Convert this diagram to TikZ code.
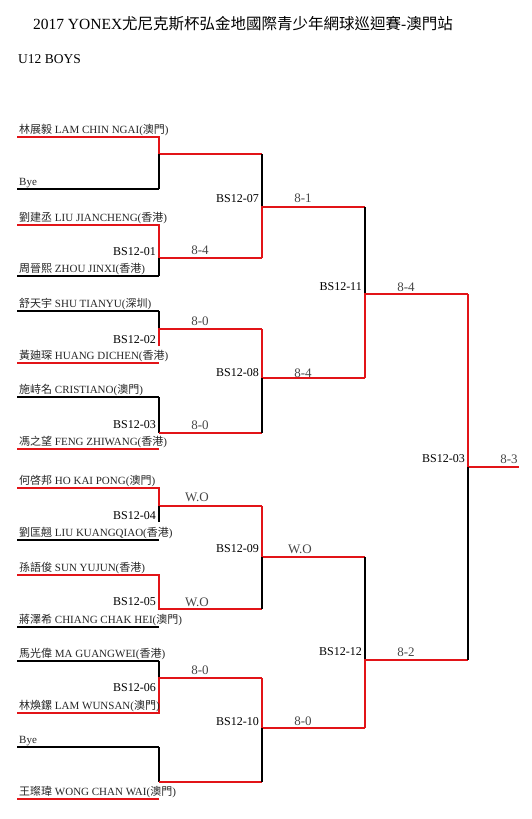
\documentclass[tikz,border=0pt]{standalone}
\usepackage{fontspec}
\setmainfont{Liberation Serif}
\newfontfamily\cjk{Noto Sans CJK TC}
\definecolor{brk}{RGB}{226,20,24}
\definecolor{sc}{RGB}{70,70,70}
\begin{document}
\begin{tikzpicture}[x=1pt,y=-1pt,
  win/.style={draw=brk,line width=2pt},
  lose/.style={draw=black,line width=2.3pt},
  pname/.style={anchor=base west,inner sep=0pt,font=\fontsize{11}{13}\selectfont,text=black!85},
  mlabel/.style={anchor=east,inner sep=0pt,font=\fontsize{12}{14}\selectfont},
  score/.style={inner sep=0pt,font=\fontsize{13}{15}\selectfont,text=sc}]
\useasboundingbox (0,0) rectangle (531,819);

% titles
\node[inner sep=0pt,font=\fontsize{15.5}{18}\selectfont] (title) at (243,24) {2017 YONEX{\cjk 尤尼克斯杯弘金地國際青少年網球巡迴賽}-{\cjk 澳門站}};
\node[anchor=west,inner sep=0pt,font=\fontsize{13.5}{16}\selectfont] (sub) at (18,59) {U12 BOYS};

% player line ends
\foreach \i/\y in {1/137,2/189,3/225,4/276,5/311,6/363,7/397,8/449,9/488,10/540,11/575,12/627,13/661,14/713,15/747,16/799}{
  \coordinate (L\i) at (17,\y);
  \coordinate (R\i) at (159,\y);
}
% round-1 outputs
\coordinate (A1) at (159,154);  \coordinate (A1r) at (262,154);
\coordinate (A2) at (159,258);  \coordinate (A2r) at (262,258);
\coordinate (A3) at (159,329);  \coordinate (A3r) at (262,329);
\coordinate (A4) at (159,433);  \coordinate (A4r) at (262,433);
\coordinate (A5) at (159,506);  \coordinate (A5r) at (262,506);
\coordinate (A6) at (159,609);  \coordinate (A6r) at (262,609);
\coordinate (A7) at (159,678);  \coordinate (A7r) at (262,678);
\coordinate (A8) at (159,782);  \coordinate (A8r) at (262,782);
\coordinate (E2) at (159,346);
\coordinate (E4) at (159,522);
% round-2 outputs
\coordinate (B1) at (262,207); \coordinate (B1r) at (365,207);
\coordinate (B2) at (262,378); \coordinate (B2r) at (365,378);
\coordinate (B3) at (262,557); \coordinate (B3r) at (365,557);
\coordinate (B4) at (262,728); \coordinate (B4r) at (365,728);
% round-3 outputs
\coordinate (C1) at (365,294); \coordinate (C1r) at (468,294);
\coordinate (C2) at (365,660); \coordinate (C2r) at (468,660);
% final
\coordinate (D1) at (468,467); \coordinate (D1r) at (519,467);

% player lines
\foreach \i in {2,4,5,7,10,12,13,15}{ \draw[lose] (L\i) -- (R\i); }
\foreach \i in {1,3,6,8,9,11,14,16}{ \draw[win] (L\i) -- (R\i); }

% round 1 brackets
\draw[win] (L1) -- (R1) -- (A1) -- (A1r);
\draw[lose] (A1) -- (R2);
\draw[win] (L3) -- (R3) -- (A2) -- (A2r);
\draw[lose] (A2) -- (R4);
\draw[lose] (R5) -- (A3);
\draw[win] (E2) -- (A3) -- (A3r);
\draw[lose] (R7) -- (A4);
\draw[win] (A4) -- (A4r);
\draw[win] (L9) -- (R9) -- (A5) -- (A5r);
\draw[lose] (A5) -- (E4);
\draw[win] (L11) -- (R11) -- (A6) -- (A6r);
\draw[lose] (R13) -- (A7);
\draw[win] (A7r) -- (A7) -- (R14) -- (L14);
\draw[lose] (R15) -- (A8);
\draw[win] (A8) -- (A8r);

% round 2 brackets
\draw[lose] (A1r) -- (B1);
\draw[win] (A2r) -- (B1) -- (B1r);
\draw[win] (A3r) -- (B2) -- (B2r);
\draw[lose] (B2) -- (A4r);
\draw[win] (A5r) -- (B3) -- (B3r);
\draw[lose] (B3) -- (A6r);
\draw[win] (A7r) -- (B4) -- (B4r);
\draw[lose] (B4) -- (A8r);

% round 3 brackets
\draw[lose] (B1r) -- (C1);
\draw[win] (B2r) -- (C1) -- (C1r);
\draw[lose] (B3r) -- (C2);
\draw[win] (B4r) -- (C2) -- (C2r);

% final
\draw[win] (C1r) -- (D1) -- (D1r);
\draw[lose] (D1) -- (C2r);

% player names
\node[pname] (p1) at (19,133) {{\cjk 林展毅} LAM CHIN NGAI({\cjk 澳門})};
\node[pname] (p2) at (19,185) {Bye};
\node[pname] (p3) at (19,221) {{\cjk 劉建丞} LIU JIANCHENG({\cjk 香港})};
\node[pname] (p4) at (19,272) {{\cjk 周晉熙} ZHOU JINXI({\cjk 香港})};
\node[pname] (p5) at (19,307) {{\cjk 舒天宇} SHU TIANYU({\cjk 深圳})};
\node[pname] (p6) at (19,359) {{\cjk 黃廸琛} HUANG DICHEN({\cjk 香港})};
\node[pname] (p7) at (19,393) {{\cjk 施峙名} CRISTIANO({\cjk 澳門})};
\node[pname] (p8) at (19,445) {{\cjk 馮之望} FENG ZHIWANG({\cjk 香港})};
\node[pname] (p9) at (19,484) {{\cjk 何啓邦} HO KAI PONG({\cjk 澳門})};
\node[pname] (p10) at (19,536) {{\cjk 劉匡翹} LIU KUANGQIAO({\cjk 香港})};
\node[pname] (p11) at (19,571) {{\cjk 孫語俊} SUN YUJUN({\cjk 香港})};
\node[pname] (p12) at (19,623) {{\cjk 蔣澤希} CHIANG CHAK HEI({\cjk 澳門})};
\node[pname] (p13) at (19,657) {{\cjk 馬光偉} MA GUANGWEI({\cjk 香港})};
\node[pname] (p14) at (19,709) {{\cjk 林煥鏍} LAM WUNSAN({\cjk 澳門})};
\node[pname] (p15) at (19,743) {Bye};
\node[pname] (p16) at (19,795) {{\cjk 王璨瑋} WONG CHAN WAI({\cjk 澳門})};

% match labels
\node[mlabel] (m01) at (156,252) {BS12-01};
\node[mlabel] (m02) at (156,340) {BS12-02};
\node[mlabel] (m03) at (156,425) {BS12-03};
\node[mlabel] (m04) at (156,516) {BS12-04};
\node[mlabel] (m05) at (156,602) {BS12-05};
\node[mlabel] (m06) at (156,688) {BS12-06};
\node[mlabel] (m07) at (259,199) {BS12-07};
\node[mlabel] (m08) at (259,373) {BS12-08};
\node[mlabel] (m09) at (259,549) {BS12-09};
\node[mlabel] (m10) at (259,722) {BS12-10};
\node[mlabel] (m11) at (362,287) {BS12-11};
\node[mlabel] (m12) at (362,652) {BS12-12};
\node[mlabel] (mf) at (465,459) {BS12-03};

% scores
\node[score] (s01) at (200,250) {8-4};
\node[score] (s02) at (200,321) {8-0};
\node[score] (s03) at (200,425) {8-0};
\node[score] (s04) at (197,497) {W.O};
\node[score] (s05) at (197,602) {W.O};
\node[score] (s06) at (200,670) {8-0};
\node[score] (s07) at (303,198) {8-1};
\node[score] (s08) at (303,373) {8-4};
\node[score] (s09) at (300,549) {W.O};
\node[score] (s10) at (303,721) {8-0};
\node[score] (s11) at (406,287) {8-4};
\node[score] (s12) at (406,652) {8-2};
\node[score] (sf) at (509,459) {8-3};
\end{tikzpicture}
\end{document}
